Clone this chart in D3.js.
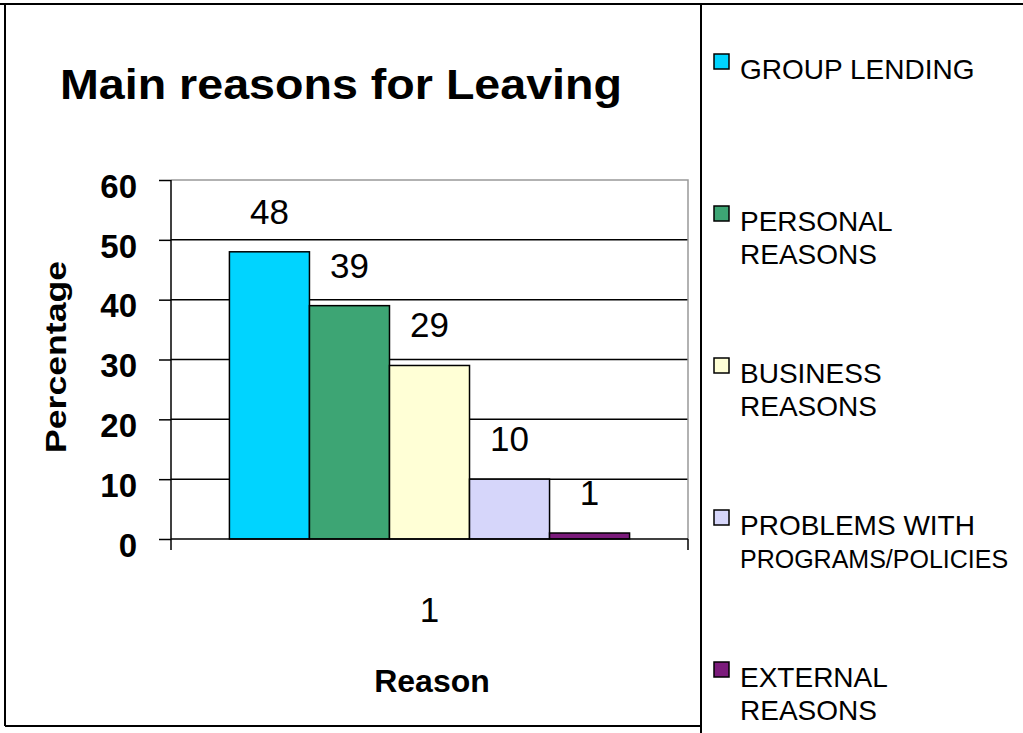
<!DOCTYPE html>
<html>
<head>
<meta charset="utf-8">
<script src="https://cdn.jsdelivr.net/npm/d3@7"></script>
<style>
  html, body { margin: 0; padding: 0; background: #fff; }
  svg { display: block; font-family: "Liberation Sans", Arial, Helvetica, sans-serif; }
</style>
</head>
<body>
<svg id="chart" width="1023" height="733"></svg>
<script>
// data
const reasons = ["GROUP LENDING", "PERSONAL REASONS", "BUSINESS REASONS", "PROBLEMS WITH PROGRAMS/POLICIES", "EXTERNAL REASONS"];
const legendLines = [["GROUP LENDING"], ["PERSONAL", "REASONS"], ["BUSINESS", "REASONS"], ["PROBLEMS WITH", "PROGRAMS/POLICIES"], ["EXTERNAL", "REASONS"]];
const percentages = [48, 39, 29, 10, 1];
const colors = ["#00d4ff", "#3da574", "#ffffd6", "#d6d6fa", "#7b1b7b"];
const groups = ["1"];
const yTicks = [0, 10, 20, 30, 40, 50, 60];

const svg = d3.select("#chart");

// 外框
svg.append("line").attr("x1", 0).attr("x2", 1023).attr("y1", 4).attr("y2", 4)
  .attr("stroke", "#000").attr("stroke-width", 2);
svg.append("line").attr("x1", 5).attr("x2", 5).attr("y1", 4).attr("y2", 726)
  .attr("stroke", "#000").attr("stroke-width", 2);
svg.append("line").attr("x1", 5).attr("x2", 701).attr("y1", 726).attr("y2", 726)
  .attr("stroke", "#000").attr("stroke-width", 2);
svg.append("line").attr("x1", 701).attr("x2", 701).attr("y1", 4).attr("y2", 733)
  .attr("stroke", "#000").attr("stroke-width", 2);

// scales
const plot = { left: 171, right: 688, top: 180, bottom: 539 };
const y = d3.scaleLinear().domain([0, 60]).range([plot.bottom, plot.top]);
const x0 = d3.scaleBand().domain(groups).range([plot.left, plot.right])
  .paddingInner(0).paddingOuter(0.146);
const x1 = d3.scaleBand().domain(reasons).range([0, x0.bandwidth()]).padding(0);

// title
svg.append("text")
  .attr("x", 60).attr("y", 99)
  .attr("font-size", 42).attr("font-weight", "bold")
  .attr("textLength", 562).attr("lengthAdjust", "spacingAndGlyphs")
  .text("Main reasons for Leaving");

// gridlines
svg.append("g")
  .selectAll("line")
  .data(yTicks.filter(d => d > 0 && d < 60))
  .join("line")
  .attr("x1", plot.left).attr("x2", plot.right)
  .attr("y1", d => y(d)).attr("y2", d => y(d))
  .attr("stroke", "#000").attr("stroke-width", 1.5);

// plot border top/right (gray)
svg.append("path")
  .attr("d", `M${plot.left},${y(60)}H${plot.right}V${y(0)}`)
  .attr("fill", "none").attr("stroke", "#999").attr("stroke-width", 1.5);

// bars
const g = svg.append("g").attr("transform", `translate(${x0("1")},0)`);
g.selectAll("rect")
  .data(percentages)
  .join("rect")
  .attr("x", (d, i) => x1(reasons[i]))
  .attr("y", d => y(d))
  .attr("width", x1.bandwidth())
  .attr("height", d => y(0) - y(d))
  .attr("fill", (d, i) => colors[i])
  .attr("stroke", "#000").attr("stroke-width", 1.5);

// value labels
g.selectAll("text.val")
  .data(percentages)
  .join("text")
  .attr("class", "val")
  .attr("x", (d, i) => x1(reasons[i]) + x1.bandwidth() / 2)
  .attr("y", d => y(d) - 28)
  .attr("text-anchor", "middle")
  .attr("font-size", 35)
  .text(d => d);

// y axis
const yAxis = svg.append("g")
  .attr("transform", `translate(${plot.left},0)`)
  .call(d3.axisLeft(y).tickValues(yTicks).tickSize(12).tickPadding(22).tickSizeOuter(0));
yAxis.select(".domain").attr("d", `M0,${y(60)}V${y(0) + 11}`).attr("stroke-width", 1.5);
yAxis.selectAll(".tick line").attr("stroke-width", 1.5);
yAxis.selectAll(".tick text")
  .attr("font-size", 33).attr("font-weight", "bold")
  .attr("font-family", "'Liberation Sans', Arial, sans-serif")
  .attr("dy", "0.52em").attr("fill", "#000");

// x axis
const xAxis = svg.append("g")
  .attr("transform", `translate(0,${y(0)})`)
  .call(d3.axisBottom(x0).tickSize(0).tickPadding(58));
xAxis.select(".domain").remove();
xAxis.selectAll(".tick text")
  .attr("font-size", 35)
  .attr("font-family", "'Liberation Sans', Arial, sans-serif")
  .attr("fill", "#000");
svg.append("line")
  .attr("x1", plot.left).attr("x2", plot.right).attr("y1", y(0)).attr("y2", y(0))
  .attr("stroke", "#000").attr("stroke-width", 1.5);
svg.append("line")
  .attr("x1", plot.right).attr("x2", plot.right).attr("y1", y(0)).attr("y2", y(0) + 11)
  .attr("stroke", "#000").attr("stroke-width", 1.5);

// axis titles
svg.append("text")
  .attr("x", 432).attr("y", 692)
  .attr("text-anchor", "middle")
  .attr("font-size", 32).attr("font-weight", "bold")
  .text("Reason");

svg.append("text")
  .attr("transform", "translate(66,357) rotate(-90)")
  .attr("text-anchor", "middle")
  .attr("font-size", 30).attr("font-weight", "bold")
  .attr("textLength", 192).attr("lengthAdjust", "spacingAndGlyphs")
  .text("Percentage");

// legend
const legend = svg.append("g")
  .selectAll("g")
  .data(legendLines)
  .join("g")
  .attr("transform", (d, i) => `translate(714,${79 + i * 152})`);
legend.append("rect")
  .attr("x", 0).attr("y", -25).attr("width", 15).attr("height", 15)
  .attr("fill", (d, i) => colors[i])
  .attr("stroke", "#000").attr("stroke-width", 1.5);
legend.append("text")
  .attr("font-size", 28)
  .selectAll("tspan")
  .data(d => d)
  .join("tspan")
  .attr("x", 26)
  .attr("y", (d, i) => i * 33)
  .text(d => d)
  .attr("font-size", function () {
    // 放不下就缩小字号
    const maxW = 1012 - 740;
    const w = this.getComputedTextLength();
    return w > maxW ? Math.floor(28 * maxW / w) : 28;
  });
</script>
</body>
</html>
